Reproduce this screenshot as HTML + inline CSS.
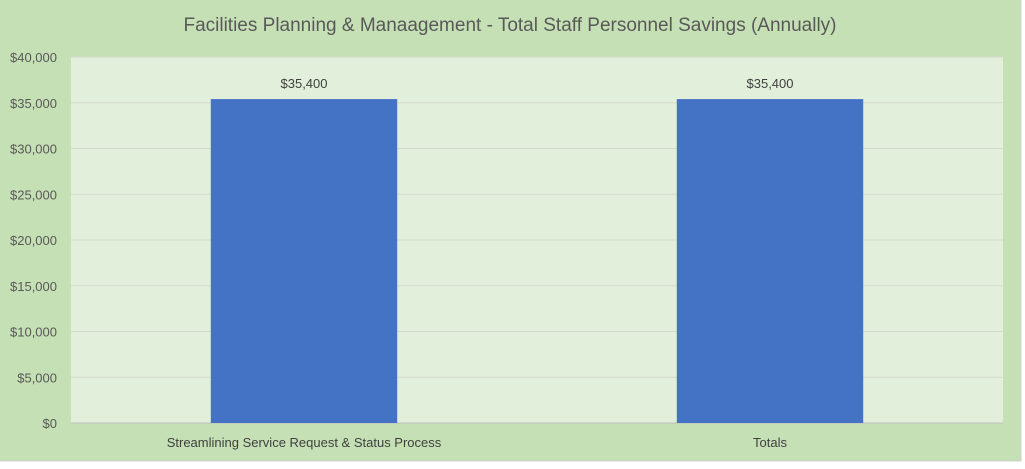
<!DOCTYPE html>
<html><head><meta charset="utf-8"><style>
body{margin:0;width:1025px;height:464px;background:#fff;overflow:hidden;font-family:"Liberation Sans",sans-serif}
</style></head><body>
<svg width="1025" height="464">
<rect x="0" y="0" width="1021" height="461" fill="#c5e0b4"/>
<line x1="1021" y1="0" x2="1021" y2="461" stroke="#d0d0d0"/>
<line x1="0" y1="461" x2="1021" y2="461" stroke="#d0d0d0"/>
<text x="510" y="31" text-anchor="middle" font-size="19" fill="#595959">Facilities Planning &amp; Manaagement - Total Staff Personnel Savings (Annually)</text>
<rect x="71" y="57" width="932" height="366" fill="#e2efda"/>
<g id="grid"></g><g id="bars"></g><g id="labels"></g>
</svg>
<script>
const categories=["Streamlining Service Request & Status Process","Totals"];
const values=[35400,35400];
const valueLabels=["$35,400","$35,400"];
const ticks=[0,5000,10000,15000,20000,25000,30000,35000,40000];
const tickLabels=["$0","$5,000","$10,000","$15,000","$20,000","$25,000","$30,000","$35,000","$40,000"];
const NS="http://www.w3.org/2000/svg";
const px0=71,px1=1003,py0=423,py1=57,ymax=40000;
const y=v=>py0-(v/ymax)*(py0-py1);
const band=(px1-px0)/categories.length;
const xc=i=>px0+band*(i+0.5);
const bw=band*0.4;
function mk(t,a){const e=document.createElementNS(NS,t);for(const k in a)e.setAttribute(k,a[k]);return e;}
const g=document.getElementById('grid'),b=document.getElementById('bars'),l=document.getElementById('labels');
ticks.forEach((t,i)=>{
 const ln=mk('line',{x1:px0,x2:px1,y1:y(t),y2:y(t),stroke:t===0?'#bfbfbf':'#d3dccc','stroke-width':1});
 
 
 g.appendChild(ln);
 const tx=mk('text',{x:57,y:y(t)+5,'text-anchor':'end','font-size':13,fill:'#595959'});
 tx.textContent=tickLabels[i];
 
 
 g.appendChild(tx);
});
categories.forEach((c,i)=>{
 const r=mk('rect',{x:xc(i)-bw/2,y:y(values[i]),width:bw,height:py0-y(values[i]),fill:'#4472c4'});
 
 
 b.appendChild(r);
 const v=mk('text',{x:xc(i),y:y(values[i])-11,'text-anchor':'middle','font-size':13,fill:'#404040'});
 v.textContent=valueLabels[i];
 
 
 l.appendChild(v);
 const cl=mk('text',{x:xc(i),y:447,'text-anchor':'middle','font-size':13,fill:'#404040'});
 cl.textContent=c;
 
 
 l.appendChild(cl);
});
</script>
</body></html>
